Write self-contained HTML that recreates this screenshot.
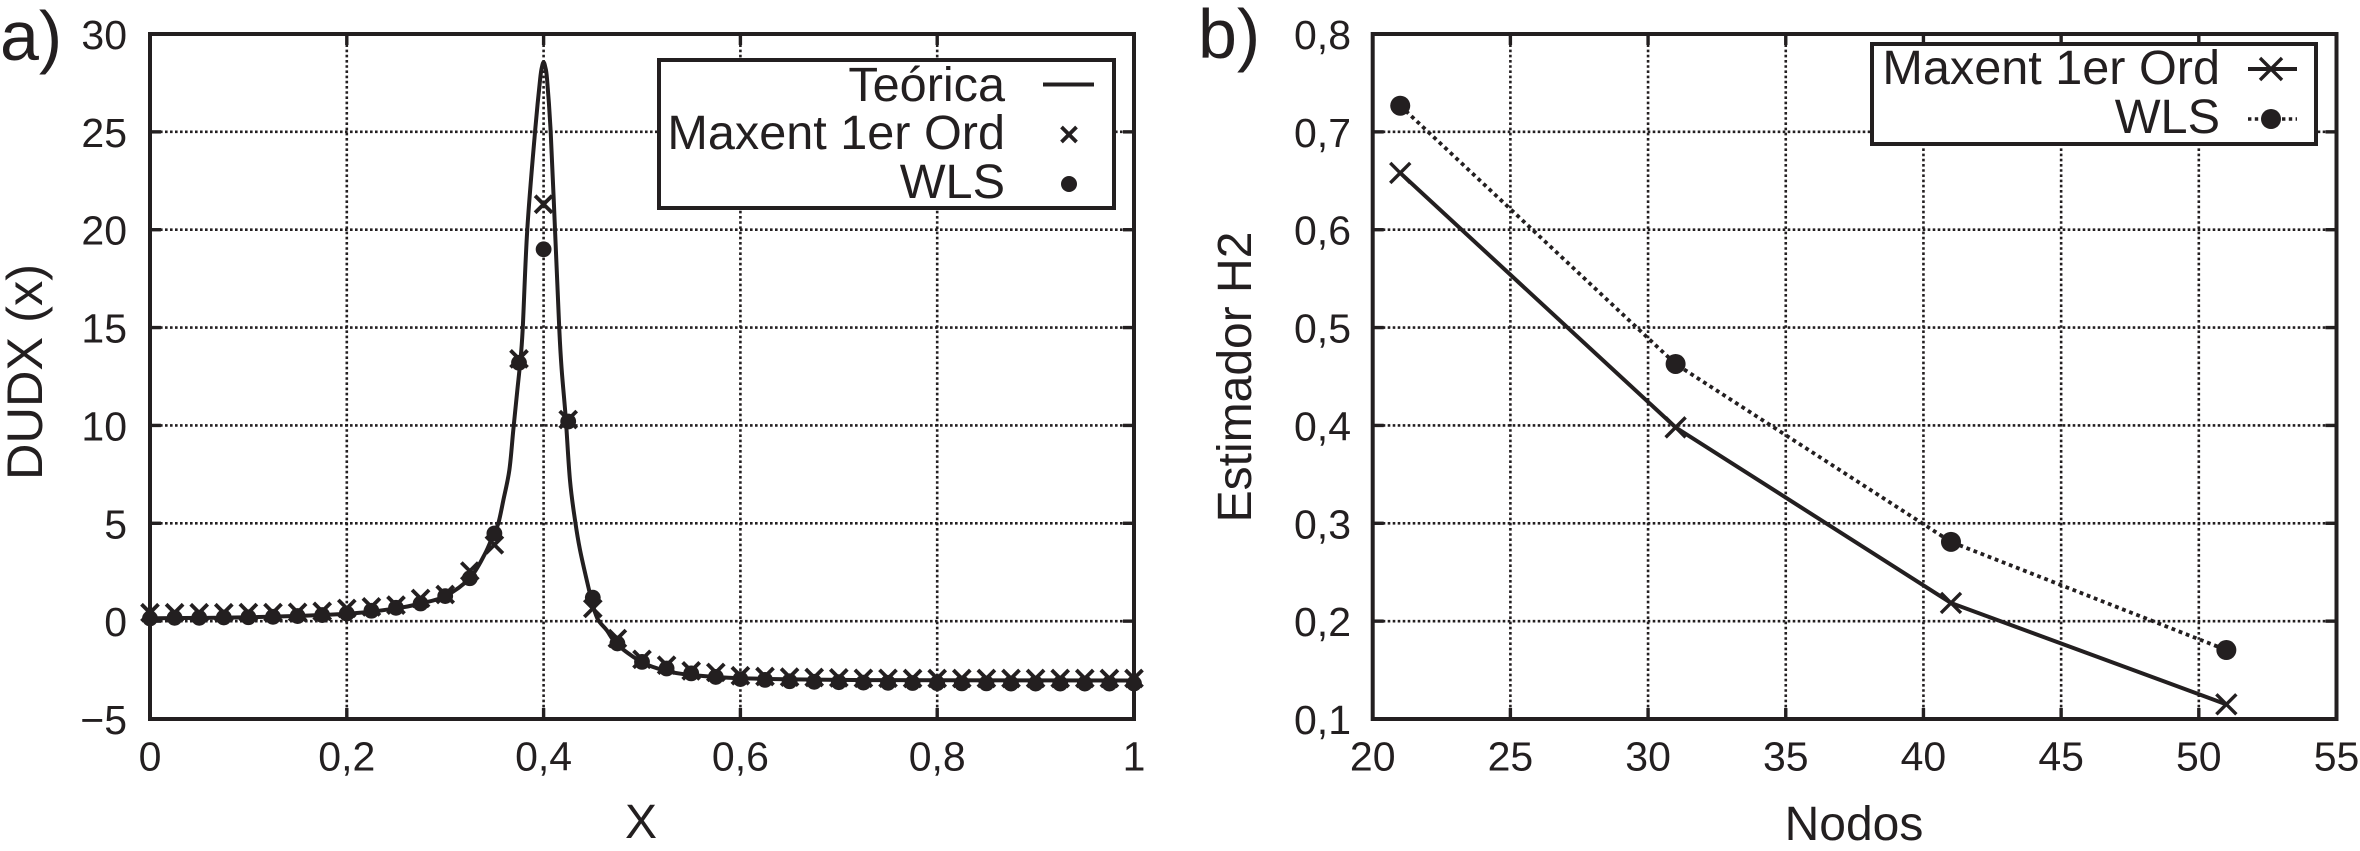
<!DOCTYPE html>
<html>
<head>
<meta charset="utf-8">
<title>DUDX and Estimador H2</title>
<style>
html,body{margin:0;padding:0;background:#fff;width:2360px;height:851px;overflow:hidden}
svg{display:block}
text{font-family:"Liberation Sans",sans-serif;fill:#231f20}
</style>
</head>
<body>
<svg id="figure" xmlns="http://www.w3.org/2000/svg" width="2360" height="851" viewBox="0 0 2360 851"></svg>
<script>
// Panel a data
const aTickX = [0, 0.2, 0.4, 0.6, 0.8, 1];
const aTickXLabels = ["0", "0,2", "0,4", "0,6", "0,8", "1"];
const aTickY = [-5, 0, 5, 10, 15, 20, 25, 30];
const aTickYLabels = ["\u22125", "0", "5", "10", "15", "20", "25", "30"];
const theoryX = [0, 0.1, 0.2, 0.25, 0.275, 0.3, 0.325, 0.34, 0.3488, 0.354, 0.3591, 0.3652, 0.3692, 0.3733, 0.3761, 0.3787, 0.3834, 0.3913, 0.3965, 0.3985, 0.4, 0.4015, 0.4035, 0.4072, 0.4116, 0.416, 0.4184, 0.4224, 0.4268, 0.4319, 0.437, 0.4454, 0.4505, 0.4556, 0.4641, 0.475, 0.5, 0.525, 0.55, 0.6, 0.7, 0.8, 1];
const theoryY = [0.15, 0.2, 0.38, 0.65, 0.9, 1.28, 2.2, 3.4, 4.4, 5, 6.18, 7.72, 9.76, 11.8, 13.17, 14.87, 20, 25, 27.7, 28.35, 28.55, 28.35, 27.7, 25, 20, 14.87, 12.83, 10.44, 7.2, 5.17, 3.64, 1.76, 0.73, 0.05, -0.46, -1.2, -2.1, -2.55, -2.75, -2.92, -3, -3.02, -3.03];
const sampleX = [0, 0.025, 0.05, 0.075, 0.1, 0.125, 0.15, 0.175, 0.2, 0.225, 0.25, 0.275, 0.3, 0.325, 0.35, 0.375, 0.4, 0.425, 0.45, 0.475, 0.5, 0.525, 0.55, 0.575, 0.6, 0.625, 0.65, 0.675, 0.7, 0.725, 0.75, 0.775, 0.8, 0.825, 0.85, 0.875, 0.9, 0.925, 0.95, 0.975, 1];
const maxentA = [0.43, 0.43, 0.43, 0.43, 0.44, 0.44, 0.45, 0.5, 0.65, 0.73, 0.82, 1.16, 1.36, 2.56, 3.9, 13.4, 21.3, 10.3, 0.65, -0.89, -1.95, -2.25, -2.54, -2.62, -2.79, -2.83, -2.86, -2.88, -2.9, -2.92, -2.92, -2.93, -2.93, -2.93, -2.93, -2.93, -2.93, -2.93, -2.93, -2.93, -2.93];
const wlsA = [0.14, 0.17, 0.17, 0.19, 0.2, 0.22, 0.26, 0.31, 0.39, 0.53, 0.68, 0.9, 1.28, 2.19, 4.48, 13.2, 19, 10.2, 1.2, -1.14, -2.08, -2.42, -2.67, -2.85, -2.96, -3, -3.07, -3.1, -3.12, -3.14, -3.15, -3.16, -3.17, -3.18, -3.18, -3.19, -3.19, -3.19, -3.19, -3.19, -3.19];

// Panel b data
const bTickX = [20, 25, 30, 35, 40, 45, 50, 55];
const bTickXLabels = ["20", "25", "30", "35", "40", "45", "50", "55"];
const bTickY = [0.1, 0.2, 0.3, 0.4, 0.5, 0.6, 0.7, 0.8];
const bTickYLabels = ["0,1", "0,2", "0,3", "0,4", "0,5", "0,6", "0,7", "0,8"];
const nodos = [21, 31, 41, 51];
const maxentB = [0.658, 0.398, 0.2186, 0.115];
const wlsB = [0.7267, 0.4628, 0.281, 0.1705];

const INK = "#231f20";
const NS = "http://www.w3.org/2000/svg";
const root = document.getElementById("figure");

function make(tag, attrs, parent) {
  const el = document.createElementNS(NS, tag);
  for (const k in attrs) el.setAttribute(k, attrs[k]);
  (parent || root).appendChild(el);
  return el;
}
function line(x1, y1, x2, y2, w, dash, parent) {
  const el = make("line", {x1: x1, y1: y1, x2: x2, y2: y2, stroke: INK, "stroke-width": w}, parent);
  if (dash) el.setAttribute("stroke-dasharray", dash);
  return el;
}
function label(str, x, y, size, anchor, parent) {
  const el = make("text", {x: x, y: y, "font-size": size, "text-anchor": anchor}, parent);
  el.textContent = str;
  return el;
}
function cross(cx, cy, h, w, parent) {
  const g = make("g", {}, parent);
  line(cx - h, cy - h, cx + h, cy + h, w, null, g);
  line(cx - h, cy + h, cx + h, cy - h, w, null, g);
  return g;
}
function dot(cx, cy, r, parent) {
  return make("circle", {cx: cx, cy: cy, r: r, fill: INK}, parent);
}
function scale(d0, d1, r0, r1) {
  return function (v) { return r0 + (v - d0) * (r1 - r0) / (d1 - d0); };
}
function pointsOf(xs, ys, fx, fy) {
  return xs.map(function (v, i) { return fx(v).toFixed(2) + "," + fy(ys[i]).toFixed(2); }).join(" ");
}
function smoothPath(xs, ys, fx, fy) {
  const p = xs.map(function (v, i) { return [fx(v), fy(ys[i])]; });
  let d = "M" + p[0][0].toFixed(2) + " " + p[0][1].toFixed(2);
  for (let i = 0; i < p.length - 1; i++) {
    const a = p[Math.max(i - 1, 0)], b = p[i], c = p[i + 1], e = p[Math.min(i + 2, p.length - 1)];
    const c1x = b[0] + (c[0] - a[0]) / 6, c1y = b[1] + (c[1] - a[1]) / 6;
    const c2x = c[0] - (e[0] - b[0]) / 6, c2y = c[1] - (e[1] - b[1]) / 6;
    d += "C" + c1x.toFixed(2) + " " + c1y.toFixed(2) + " " + c2x.toFixed(2) + " " + c2y.toFixed(2) + " " + c[0].toFixed(2) + " " + c[1].toFixed(2);
  }
  return d;
}
function frame(panel, L, R, T, B, tx, txl, ty, tyl, fx, fy, yLabelRight) {
  // grid
  const grid = make("g", {}, panel);
  
  
  tx.forEach(function (v) {
    const x = fx(v);
    if (x > L + 1 && x < R - 1) line(x, T, x, B, 2.6, "2.6 2.6", grid);
  });
  ty.forEach(function (v) {
    const y = fy(v);
    if (y > T + 1 && y < B - 1) line(L, y, R, y, 2.6, "2.6 2.4", grid);
  });
  // ticks
  const xAxis = make("g", {}, panel);
  
  
  tx.forEach(function (v, i) {
    const x = fx(v);
    line(x, B, x, B - 11, 3.4, null, xAxis);
    line(x, T, x, T + 11, 3.4, null, xAxis);
    const t = label(txl[i], x, 770.5, 41, "middle", xAxis);
    
    
  });
  const yAxis = make("g", {}, panel);
  
  
  ty.forEach(function (v, i) {
    const y = fy(v);
    line(L, y, L + 11, y, 3.4, null, yAxis);
    line(R, y, R - 11, y, 3.4, null, yAxis);
    const t = label(tyl[i], yLabelRight, y + 15, 41, "end", yAxis);
    
    
  });
}
function border(panel, L, R, T, B) {
  const el = make("rect", {x: L, y: T, width: R - L, height: B - T, fill: "none", stroke: INK, "stroke-width": 4}, panel);
  
  
}

/* ---------- Panel a ---------- */
const panelA = make("g", {});


const ax = scale(0, 1, 150, 1134);
const ay = scale(-5, 30, 719, 34);
frame(panelA, 150, 1134, 34, 719, aTickX, aTickXLabels, aTickY, aTickYLabels, ax, ay, 127);

const theoryLine = make("path", {d: smoothPath(theoryX, theoryY, ax, ay), fill: "none", stroke: INK, "stroke-width": 4, "stroke-linejoin": "round"}, panelA);



const maxentMarksA = make("g", {}, panelA);


sampleX.forEach(function (v, i) {
  const m = cross(ax(v), ay(maxentA[i]), 8.5, 3.8, maxentMarksA);
  
  
});
const wlsMarksA = make("g", {}, panelA);


sampleX.forEach(function (v, i) {
  const m = dot(ax(v), ay(wlsA[i]), 7.9, wlsMarksA);
  
  
});
border(panelA, 150, 1134, 34, 719);

const legendA = make("g", {}, panelA);


make("rect", {x: 659, y: 60, width: 455, height: 148, fill: "#fff", stroke: INK, "stroke-width": 4}, legendA);
const legA1 = label("Teórica", 1005, 101, 48.6, "end", legendA);


const legA2 = label("Maxent 1er Ord", 1005, 149, 48.6, "end", legendA);


const legA3 = label("WLS", 1005, 198, 48.6, "end", legendA);


line(1043, 84.5, 1094, 84.5, 4, null, legendA);
cross(1069, 134.5, 7.5, 3.8, legendA);
dot(1069, 184, 8, legendA);

const titleA = label("a)", 0, 60, 70, "start");


const xTitleA = label("X", 641, 838, 48, "middle");


const yTitleA = label("DUDX (x)", 0, 0, 50.5, "middle");
yTitleA.setAttribute("transform", "translate(42 372) rotate(-90)");



/* ---------- Panel b ---------- */
const panelB = make("g", {});


const bx = scale(20, 55, 1372.7, 2336.5);
const by = scale(0.1, 0.8, 719, 34);
frame(panelB, 1372.7, 2336.5, 34, 719, bTickX, bTickXLabels, bTickY, bTickYLabels, bx, by, 1351);

const maxentLineB = make("polyline", {points: pointsOf(nodos, maxentB, bx, by), fill: "none", stroke: INK, "stroke-width": 4}, panelB);


const wlsLineB = make("polyline", {points: pointsOf(nodos, wlsB, bx, by), fill: "none", stroke: INK, "stroke-width": 3.8, "stroke-dasharray": "3.8 3.8"}, panelB);


nodos.forEach(function (v, i) {
  const m = cross(bx(v), by(maxentB[i]), 10, 3.4, panelB);
  
  
});
nodos.forEach(function (v, i) {
  const m = dot(bx(v), by(wlsB[i]), 10, panelB);
  
  
});
border(panelB, 1372.7, 2336.5, 34, 719);

const legendB = make("g", {}, panelB);


make("rect", {x: 1872, y: 44, width: 444, height: 100, fill: "#fff", stroke: INK, "stroke-width": 4}, legendB);
const legB1 = label("Maxent 1er Ord", 2220, 84, 48.6, "end", legendB);


const legB2 = label("WLS", 2220, 133, 48.6, "end", legendB);


line(2248, 69, 2297, 69, 4, null, legendB);
cross(2271, 69, 11, 3.4, legendB);
line(2248, 119, 2297, 119, 3.4, "3.4 3.4", legendB);
dot(2271, 119, 10, legendB);

const titleB = label("b)", 1198, 58, 70, "start");


const xTitleB = label("Nodos", 1854, 840, 48, "middle");


const yTitleB = label("Estimador H2", 0, 0, 48, "middle");
yTitleB.setAttribute("transform", "translate(1251 377) rotate(-90)");


</script>
</body>
</html>
